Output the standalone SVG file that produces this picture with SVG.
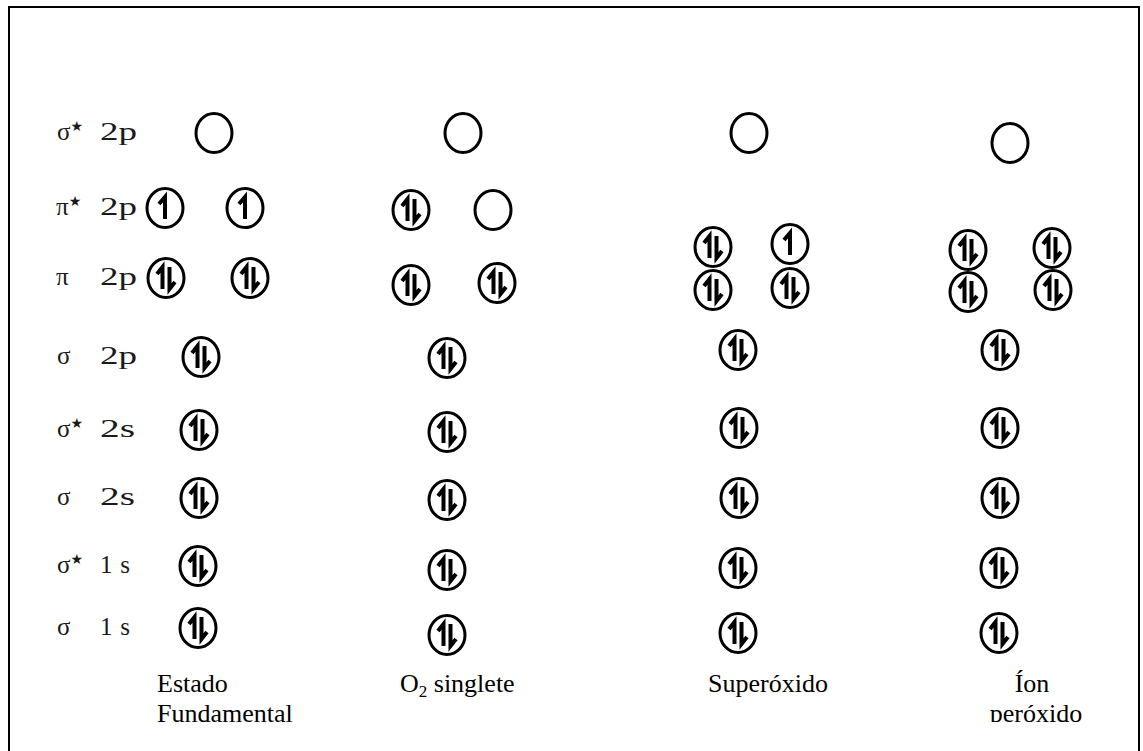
<svg xmlns="http://www.w3.org/2000/svg" xmlns:xlink="http://www.w3.org/1999/xlink" width="1143" height="751" viewBox="0 0 1143 751">
  <style>
    .frame { fill: #ffffff; stroke: #000000; stroke-width: 2; }
    .orb { fill: none; stroke: #000000; stroke-width: 3; }
    .e { fill: none; stroke: #000000; stroke-width: 4; stroke-linecap: butt; stroke-linejoin: miter; }
    .lvl { font-family: "Liberation Serif", "DejaVu Serif", serif; font-size: 25px; fill: #1a1a1a; }
    .star { font-family: "DejaVu Sans", sans-serif; font-size: 14px; }
    .cap { font-family: "Liberation Serif", "Times New Roman", serif; font-size: 26px; fill: #000000; }
  </style>
  <defs>
    <!-- empty orbital -->
    <g id="o0">
      <ellipse class="orb" cx="0" cy="0" rx="18" ry="19.5"/>
    </g>
    <!-- orbital with one electron (spin up) -->
    <g id="o1">
      <ellipse class="orb" cx="0" cy="0" rx="18" ry="19.5"/>
      <path class="e" d="M0,11 V-11 L-6,-4"/>
    </g>
    <!-- orbital with a spin pair -->
    <g id="o2">
      <ellipse class="orb" cx="0" cy="0" rx="18" ry="19.5"/>
      <path class="e" d="M-3.5,11 V-11 L-9,-4"/>
      <path class="e" d="M3.5,-11 V11 L9,4"/>
    </g>
    <clipPath id="capClip">
      <rect x="900" y="600" width="230" height="122"/>
    </clipPath>
  </defs>

  <rect class="frame" x="9" y="7" width="1130" height="760"/>

  <!-- energy level labels -->
  <g id="levels">
    <text class="lvl" x="57" y="140">σ<tspan class="star" dy="-9">★</tspan><tspan x="100" dy="9" textLength="37" lengthAdjust="spacingAndGlyphs">2p</tspan></text>
    <text class="lvl" x="56" y="215">π<tspan class="star" dy="-9">★</tspan><tspan x="100" dy="9" textLength="37" lengthAdjust="spacingAndGlyphs">2p</tspan></text>
    <text class="lvl" x="56" y="285">π<tspan x="100" textLength="37" lengthAdjust="spacingAndGlyphs">2p</tspan></text>
    <text class="lvl" x="57" y="364">σ<tspan x="100" textLength="37" lengthAdjust="spacingAndGlyphs">2p</tspan></text>
    <text class="lvl" x="57" y="437">σ<tspan class="star" dy="-9">★</tspan><tspan x="100" dy="9" textLength="35" lengthAdjust="spacingAndGlyphs">2s</tspan></text>
    <text class="lvl" x="57" y="505">σ<tspan x="100" textLength="35" lengthAdjust="spacingAndGlyphs">2s</tspan></text>
    <text class="lvl" x="57" y="573">σ<tspan class="star" dy="-9">★</tspan><tspan x="100" dy="9" textLength="30">1 s</tspan></text>
    <text class="lvl" x="57" y="635">σ<tspan x="100" textLength="30">1 s</tspan></text>
  </g>

  <!-- ground state O2 -->
  <g id="ground">
    <use xlink:href="#o0" x="214" y="133"/>
    <use xlink:href="#o1" x="165" y="208"/>
    <use xlink:href="#o1" x="245" y="208"/>
    <use xlink:href="#o2" x="166" y="278"/>
    <use xlink:href="#o2" x="250" y="278"/>
    <use xlink:href="#o2" x="201" y="357"/>
    <use xlink:href="#o2" x="199" y="430"/>
    <use xlink:href="#o2" x="199" y="498"/>
    <use xlink:href="#o2" x="198" y="566"/>
    <use xlink:href="#o2" x="198" y="628"/>
    <text class="cap" x="157" y="692">Estado</text>
    <text class="cap" x="157" y="722">Fundamental</text>
  </g>

  <!-- singlet O2 -->
  <g id="singlet">
    <use xlink:href="#o0" x="463" y="133"/>
    <use xlink:href="#o2" x="411" y="210"/>
    <use xlink:href="#o0" x="493" y="210"/>
    <use xlink:href="#o2" x="411" y="285"/>
    <use xlink:href="#o2" x="497" y="283"/>
    <use xlink:href="#o2" x="447" y="358"/>
    <use xlink:href="#o2" x="447" y="432"/>
    <use xlink:href="#o2" x="447" y="500"/>
    <use xlink:href="#o2" x="447" y="570"/>
    <use xlink:href="#o2" x="447" y="635"/>
    <text class="cap" x="400" y="692">O<tspan font-size="17" dy="5">2</tspan><tspan dy="-5"> singlete</tspan></text>
  </g>

  <!-- superoxide -->
  <g id="superoxide">
    <use xlink:href="#o0" x="749" y="133"/>
    <use xlink:href="#o2" x="713" y="247"/>
    <use xlink:href="#o1" x="790" y="244"/>
    <use xlink:href="#o2" x="713" y="290"/>
    <use xlink:href="#o2" x="790" y="288"/>
    <use xlink:href="#o2" x="738" y="350"/>
    <use xlink:href="#o2" x="739" y="428"/>
    <use xlink:href="#o2" x="739" y="498"/>
    <use xlink:href="#o2" x="738" y="568"/>
    <use xlink:href="#o2" x="738" y="633"/>
    <text class="cap" x="708" y="692">Superóxido</text>
  </g>

  <!-- peroxide ion -->
  <g id="peroxide">
    <use xlink:href="#o0" x="1010" y="143"/>
    <use xlink:href="#o2" x="968" y="250"/>
    <use xlink:href="#o2" x="1052" y="248"/>
    <use xlink:href="#o2" x="968" y="292"/>
    <use xlink:href="#o2" x="1053" y="290"/>
    <use xlink:href="#o2" x="1000" y="350"/>
    <use xlink:href="#o2" x="1000" y="428"/>
    <use xlink:href="#o2" x="1000" y="498"/>
    <use xlink:href="#o2" x="999" y="568"/>
    <use xlink:href="#o2" x="999" y="633"/>
    <g clip-path="url(#capClip)">
      <text class="cap" x="1032" y="692" text-anchor="middle">Íon</text>
      <text class="cap" x="1036" y="722" text-anchor="middle">peróxido</text>
    </g>
  </g>
</svg>
